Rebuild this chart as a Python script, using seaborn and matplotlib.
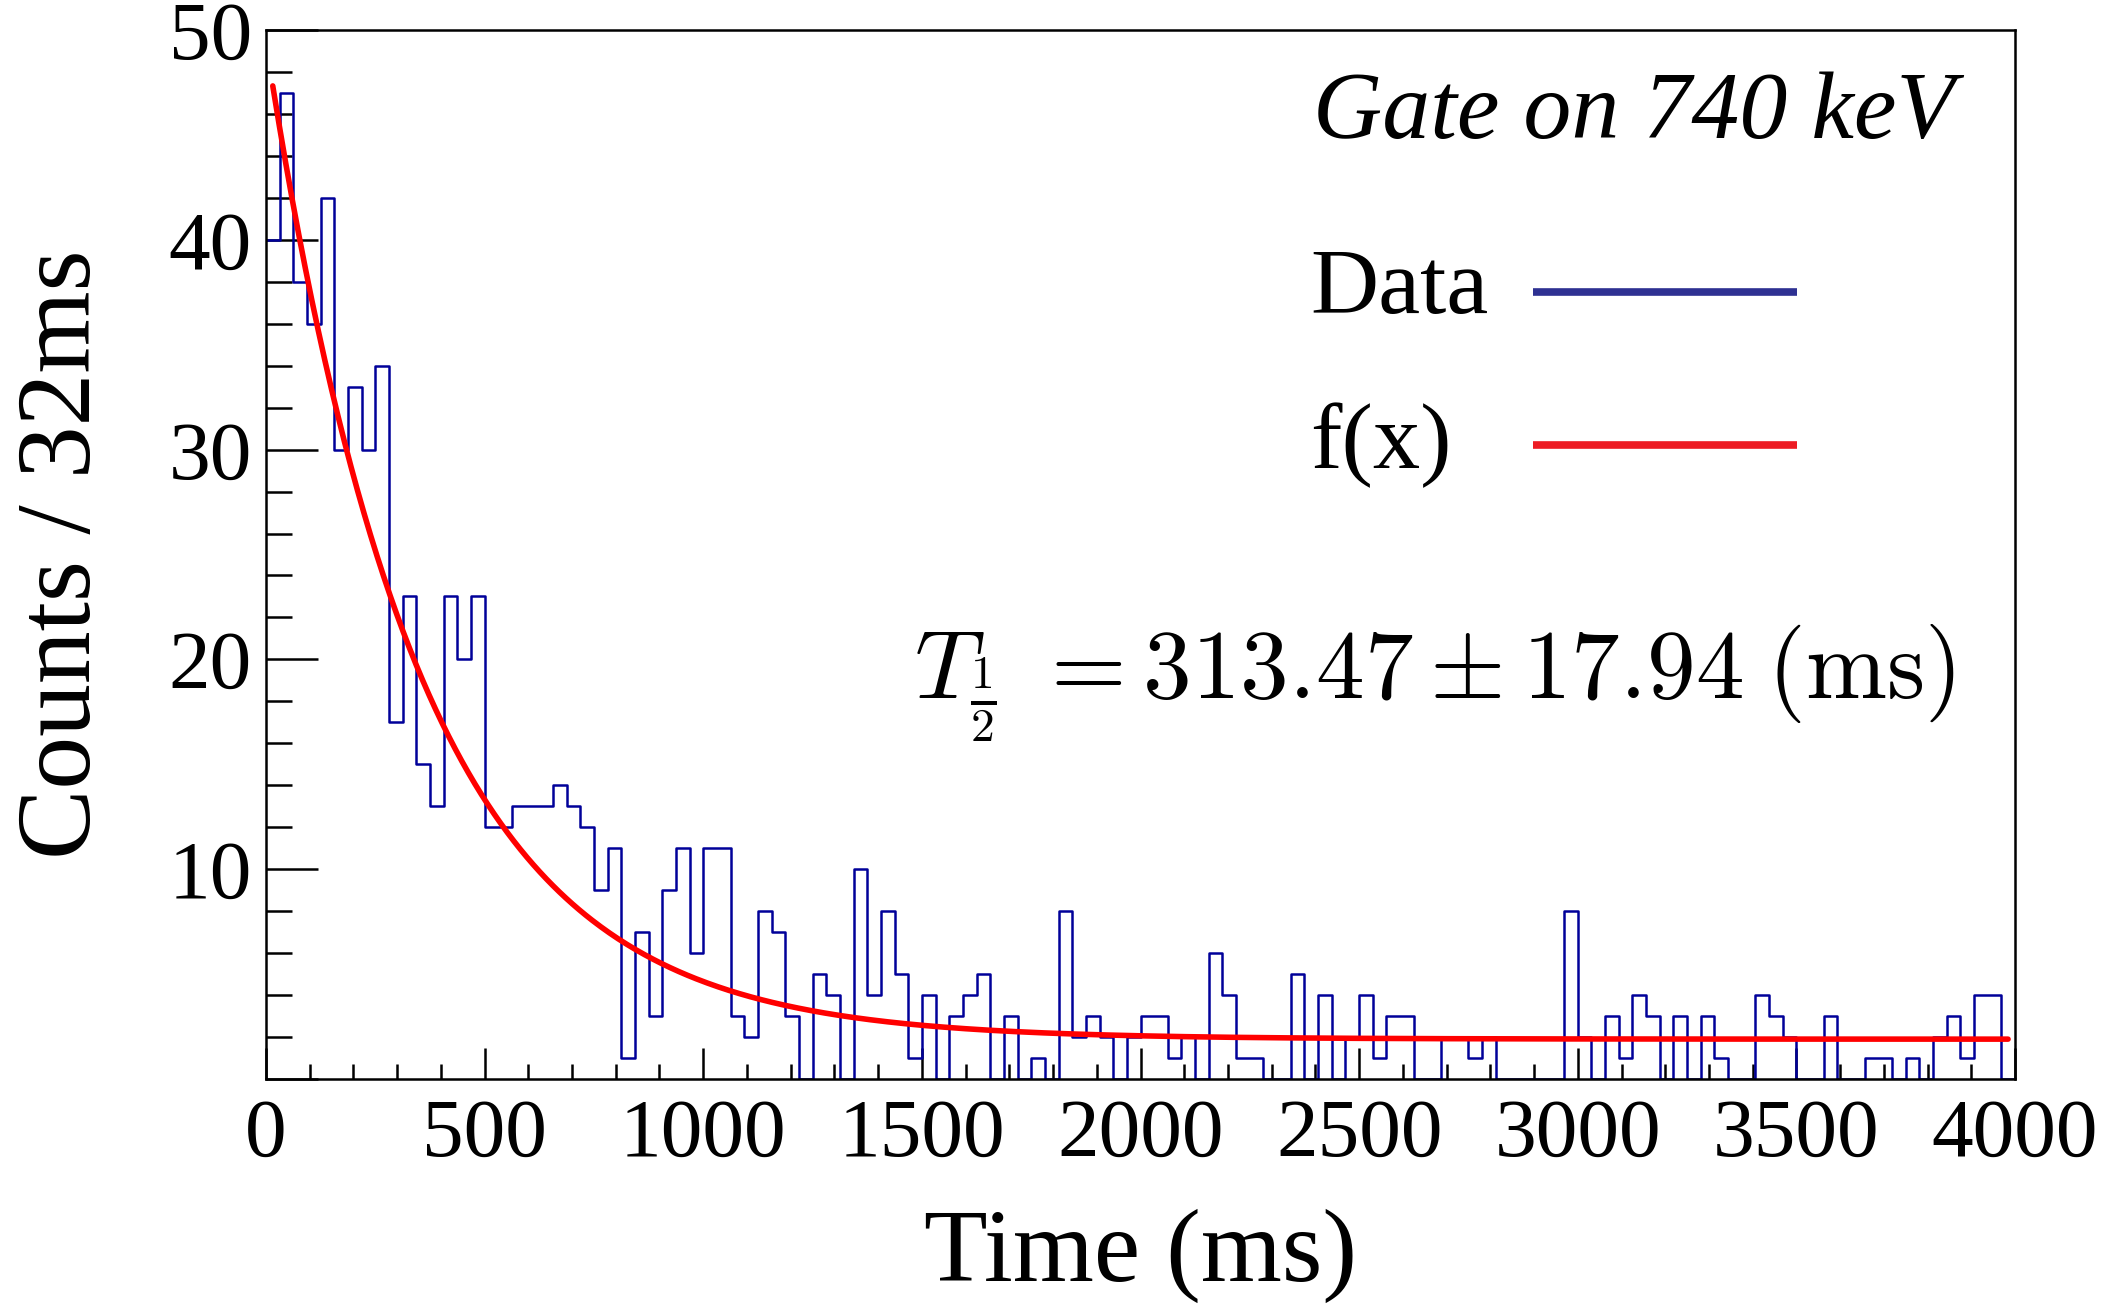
import numpy as np
import pandas as pd
import matplotlib
matplotlib.use("Agg")
import matplotlib.pyplot as plt
from matplotlib.ticker import MultipleLocator
from matplotlib.lines import Line2D
import seaborn as sns

# ---------------- data ----------------
n_bins = 128
x_min, x_max = 0.0, 4000.0
counts = [
    40, 47, 38, 36, 42, 30, 33, 30, 34, 17, 23, 15, 13, 23, 20, 23,
    12, 12, 13, 13, 13, 14, 13, 12, 9, 11, 1, 7, 3, 9, 11, 6,
    11, 11, 3, 2, 8, 7, 3, 0, 5, 4, 0, 10, 4, 8, 5, 1,
    4, 0, 3, 4, 5, 0, 3, 0, 1, 0, 8, 2, 3, 2, 0, 2,
    3, 3, 1, 2, 0, 6, 4, 1, 1, 0, 0, 5, 0, 4, 0, 2,
    4, 1, 3, 3, 0, 0, 2, 2, 1, 2, 0, 0, 0, 0, 0, 8,
    2, 0, 3, 1, 4, 3, 0, 3, 0, 3, 1, 0, 0, 4, 3, 2,
    0, 0, 3, 0, 0, 1, 1, 0, 1, 0, 2, 3, 1, 4, 4, 0,
]
# fit f(x) = A * exp(-lam * x) + B  (parameters)
fit_A = 47.5
fit_lam = 0.00285
fit_B = 1.9
fit_range = (15.6, 3984.0)

xticks = [0, 500, 1000, 1500, 2000, 2500, 3000, 3500, 4000]
yticks = [0, 10, 20, 30, 40, 50]
ytick_labels = ["", "10", "20", "30", "40", "50"]

title_text = "Gate on 740 keV"
legend_labels = ["Data", "f(x)"]
result_text = r"$T_{\frac{1}{2}}\;= 313.47 \pm 17.94\;(\mathrm{ms})$"
xlabel = "Time (ms)"
ylabel = "Counts / 32ms"

hist_color = "#000099"
fit_color = "#ff0000"
leg_blue = "#2e3192"
leg_red = "#ed1c24"

# ---------------- figure ----------------
sns.set_theme(style="white")
plt.rcParams["font.family"] = ["Liberation Serif", "DejaVu Serif"]
plt.rcParams["mathtext.fontset"] = "cm"
plt.rcParams["text.color"] = "black"
plt.rcParams["axes.labelcolor"] = "black"
plt.rcParams["xtick.color"] = "black"
plt.rcParams["ytick.color"] = "black"

DPI = 100
fig = plt.figure(figsize=(21.14, 13.09), dpi=DPI)
fig.subplots_adjust(left=0.1258, right=0.9532, top=0.9771, bottom=0.1757)
ax = fig.add_subplot(111)

bin_w = (x_max - x_min) / n_bins
centers = x_min + bin_w * (np.arange(n_bins) + 0.5)
df = pd.DataFrame({"t": centers, "n": np.asarray(counts, dtype=float)})

sns.histplot(data=df, x="t", weights="n", bins=n_bins, binrange=(x_min, x_max),
             element="step", fill=False, color=hist_color, linewidth=1.8, ax=ax)

xs = np.linspace(fit_range[0], fit_range[1], 800)
fit_df = pd.DataFrame({"t": xs, "f": fit_A * np.exp(-fit_lam * xs) + fit_B})
sns.lineplot(data=fit_df, x="t", y="f", color=fit_color, linewidth=4.0, ax=ax)

ax.set_xlim(x_min, x_max)
ax.set_ylim(0, 50)
ax.set_xticks(xticks)
ax.set_xticklabels([str(v) for v in xticks])
ax.set_yticks(yticks)
ax.set_yticklabels(ytick_labels)
ax.xaxis.set_minor_locator(MultipleLocator(100))
ax.yaxis.set_minor_locator(MultipleLocator(2))

ax.tick_params(axis="both", which="both", direction="in", colors="black",
               width=1.8, top=False, right=False, bottom=True, left=True)
ax.tick_params(axis="x", which="major", length=22.3, labelsize=60, pad=14)
ax.tick_params(axis="x", which="minor", length=10.8)
ax.tick_params(axis="y", which="major", length=37.4, labelsize=60, pad=10)
ax.tick_params(axis="y", which="minor", length=18.7)

for sp in ax.spines.values():
    sp.set_visible(True)
    sp.set_color("black")
    sp.set_linewidth(1.8)

ax.set_xlabel(xlabel, fontsize=75, color="black")
ax.set_ylabel(ylabel, fontsize=76, color="black")
ax.xaxis.label.set_va("center")
ax.yaxis.label.set_va("center")
ax.xaxis.set_label_coords(0.5, -0.169)
ax.yaxis.set_label_coords(-0.115, 0.5)

# annotations / legend (ROOT style)
ax.text(0.9657, 0.919, title_text, transform=ax.transAxes, fontsize=69,
        style="italic", ha="right", va="center", color="black")
ax.text(0.597, 0.752, legend_labels[0], transform=ax.transAxes, fontsize=68,
        ha="left", va="center", color="black")
ax.text(0.597, 0.604, legend_labels[1], transform=ax.transAxes, fontsize=68,
        ha="left", va="center", color="black")
ax.add_line(Line2D([0.7244, 0.8754], [0.750, 0.750], transform=ax.transAxes,
                   color=leg_blue, linewidth=5.5, solid_capstyle="butt"))
ax.add_line(Line2D([0.7244, 0.8754], [0.604, 0.604], transform=ax.transAxes,
                   color=leg_red, linewidth=5.5, solid_capstyle="butt"))
ax.text(0.9657, 0.363, result_text, transform=ax.transAxes, fontsize=70,
        ha="right", va="baseline", color="black")

fig.savefig("out.png", dpi=DPI, facecolor="white")
